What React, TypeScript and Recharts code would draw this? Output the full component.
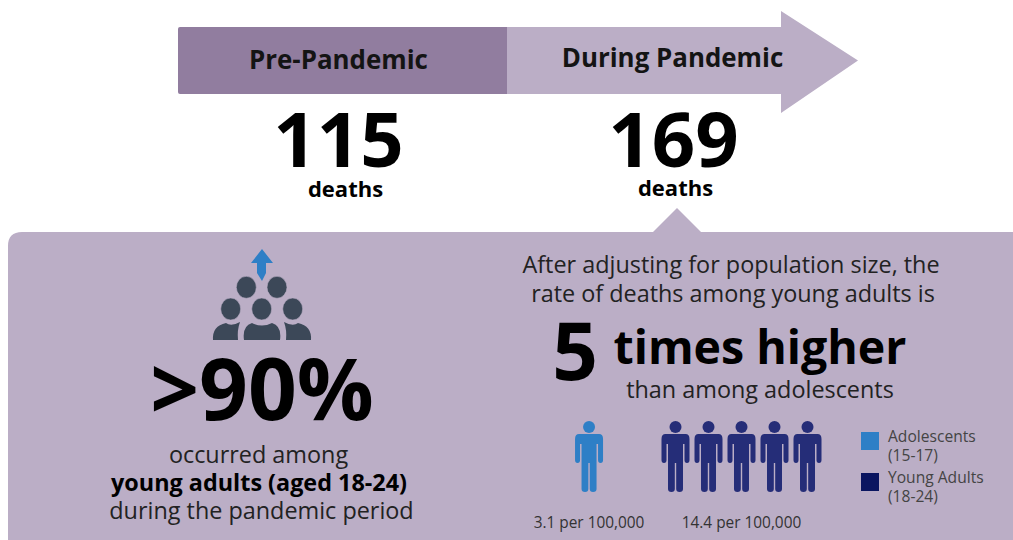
import { BarChart, Bar, Cell, LabelList, XAxis, YAxis, ScatterChart, Scatter, Legend } from 'recharts'

const periods = ['Pre-Pandemic', 'During Pandemic']
const deaths = [115, 169]
const youngAdultShare = 90
const rateMultiple = 5
const groups = ['Adolescents (15-17)', 'Young Adults (18-24)']
const rates = [3.1, 14.4]
const peopleCounts = [1, 5]

const FONT = '"Open Sans", sans-serif'
const PANEL = '#bbaec6'
const PRE = '#917d9f'
const BLUE = '#2e7fc6'
const NAVY = '#252d78'
const LEGEND_COLORS = [BLUE, '#0a1560']
const ICON = '#3c4858'

const periodRows = periods.map((name, i) => ({ name, span: 1, deaths: deaths[i] }))

// pictogram slots, one person per slot
const groupStart = [0.88, 3.5]
const personRows = peopleCounts.map((count, g) =>
  Array.from({ length: count }, (_, i) => ({ slot: groupStart[g] + i, row: 0.5 }))
)
const groupCenters = peopleCounts.map((count, g) => groupStart[g] + (count - 1) / 2)

function PeriodShape(props: any) {
  const { x, y, width, height, index, fill } = props
  if (index === 0) {
    const r = 2
    return (
      <path
        d={`M${x + r},${y} H${x + width} V${y + height} H${x + r} Q${x},${y + height} ${x},${y + height - r} V${y + r} Q${x},${y} ${x + r},${y} Z`}
        fill={fill}
      />
    )
  }
  const headBase = x + width - 55
  const tip = x + width + 22
  const mid = y + height / 2
  return (
    <path
      d={`M${x},${y} H${headBase} V${y - 16} L${tip},${mid} L${headBase},${y + height + 19} V${y + height} H${x} Z`}
      fill={fill}
    />
  )
}

function PeriodName(props: any) {
  const { x, y, width, height, value } = props
  const first = value === periods[0]
  return (
    <text x={x + width / 2 + (first ? -4 : 1)} y={y + height / 2 + (first ? 8 : 6)} textAnchor="middle" fontFamily={FONT} fontWeight={700} fontSize={25.9} fill="#141414">
      {value}
    </text>
  )
}

function DeathCount(props: any) {
  const { x, y, width, height, value } = props
  const first = value === deaths[0]
  const cx = x + width / 2 + (first ? -4 : 2)
  return (
    <g fontFamily={FONT} fontWeight={700} fill="#000" textAnchor="middle">
      <text x={cx} y={y + height + 73} fontSize={76}>{value}</text>
      <text x={cx + (first ? 7 : 2)} y={y + height + (first ? 103 : 102)} fontSize={22}>deaths</text>
    </g>
  )
}

function Person(props: any) {
  const { cx, cy, fill } = props
  const top = cy - 35.5
  return (
    <g fill={fill}>
      <circle cx={cx} cy={top + 6} r={6} />
      <path
        d={`M${cx - 10},${top + 13} H${cx + 10} Q${cx + 14},${top + 13} ${cx + 14},${top + 18}
        V${top + 39} Q${cx + 14},${top + 42} ${cx + 11.5},${top + 42} Q${cx + 9},${top + 42} ${cx + 9},${top + 39}
        V${top + 23} H${cx + 7.5} V${top + 68} Q${cx + 7.5},${top + 71} ${cx + 4},${top + 71} Q${cx + 0.7},${top + 71} ${cx + 0.7},${top + 68}
        V${top + 42} H${cx - 0.7} V${top + 68} Q${cx - 0.7},${top + 71} ${cx - 4},${top + 71} Q${cx - 7.5},${top + 71} ${cx - 7.5},${top + 68}
        V${top + 23} H${cx - 9} V${top + 39} Q${cx - 9},${top + 42} ${cx - 11.5},${top + 42} Q${cx - 14},${top + 42} ${cx - 14},${top + 39}
        V${top + 18} Q${cx - 14},${top + 13} ${cx - 10},${top + 13} Z`}
      />
    </g>
  )
}

function GroupLegend() {
  return (
    <div style={{ fontFamily: FONT, fontSize: 15.6, lineHeight: '19px', color: '#444' }}>
      {groups.map((g, i) => {
        const cut = g.indexOf('(')
        return (
          <div key={g} style={{ display: 'flex', alignItems: 'flex-start', marginBottom: 3 }}>
            <div style={{ width: 18, height: 18, marginTop: 5, marginRight: 9, background: LEGEND_COLORS[i] }} />
            <div>
              {g.slice(0, cut)}
              <br />
              {g.slice(cut)}
            </div>
          </div>
        )
      })}
    </div>
  )
}

function CrowdIcon() {
  const heads = [[246.3, 287.3], [277, 287.3], [230.7, 309], [261.7, 309], [292.7, 309]]
  return (
    <g fill={ICON}>
      {heads.map(([x, y]) => (
        <ellipse key={`${x}-${y}`} cx={x} cy={y} rx={10} ry={11} stroke={PANEL} strokeWidth={0.6} />
      ))}
      <path d="M213,340 Q212,326 226,323 Q231,327 240,322 Q237,330 238,340 Z" />
      <path d="M244,340 Q242,326 252,323 Q262,328 272,323 Q282,326 280,340 Z" />
      <path d="M311,340 Q312,326 298,323 Q293,327 284,322 Q287,330 286,340 Z" />
      <path d="M262,249 L273,263 H266 V273 L262,281 L257,273 V263 H251 Z" fill={BLUE} />
    </g>
  )
}

const textProps = { fontFamily: FONT, textAnchor: 'middle' as const, fill: '#000' }

export default function App() {
  return (
    <div style={{ position: 'absolute', left: 0, top: 0, width: 1013, height: 540, overflow: 'hidden', background: '#fff' }}>
      <svg width={1013} height={540} style={{ position: 'absolute', left: 0, top: 0 }}>
        <path d="M22,232 H653 L677,208 L701,232 H1013 V540 H8 V246 Q8,232 22,232 Z" fill={PANEL} />
        <CrowdIcon />
        <text {...textProps} x={262} y={420} fontSize={85.5} fontWeight={700}>{`>${youngAdultShare}%`}</text>
        <text {...textProps} x={258.5} y={463} fontSize={23.4} fill="#222">occurred among</text>
        <text {...textProps} x={259} y={491} fontSize={23.4} fontWeight={700}>young adults (aged 18-24)</text>
        <text {...textProps} x={261.5} y={519} fontSize={23.4} fill="#222">during the pandemic period</text>

        <text {...textProps} x={731} y={273} fontSize={23.4} fill="#222">After adjusting for population size, the</text>
        <text {...textProps} x={733} y={302} fontSize={23.4} fill="#222">rate of deaths among young adults is</text>
        <text {...textProps} x={575} y={380} fontSize={80} fontWeight={700}>{rateMultiple}</text>
        <text {...textProps} x={760} y={364} fontSize={46.5} fontWeight={700}>times higher</text>
        <text {...textProps} x={760} y={398} fontSize={23.4} fill="#222">than among adolescents</text>
      </svg>

      <div style={{ position: 'absolute', left: 178, top: 0 }}>
        <BarChart width={700} height={210} data={periodRows} barCategoryGap={0} margin={{ top: 27, right: 42, bottom: 116, left: 0 }}>
          <XAxis dataKey="name" hide />
          <YAxis domain={[0, 1]} hide />
          <Bar dataKey="span" isAnimationActive={false} shape={<PeriodShape />}>
            {periodRows.map((row, i) => (
              <Cell key={row.name} fill={i === 0 ? PRE : PANEL} />
            ))}
            <LabelList dataKey="name" content={<PeriodName />} />
            <LabelList dataKey="deaths" content={<DeathCount />} />
          </Bar>
        </BarChart>
      </div>

      <div style={{ position: 'absolute', left: 500, top: 421 }}>
        <ScatterChart width={513} height={115} margin={{ top: 0, right: 189, bottom: 0, left: 60 }}>
          <XAxis
            type="number"
            dataKey="slot"
            domain={[0, 8]}
            ticks={groupCenters}
            tickFormatter={(v: number) => `${rates[groupCenters.indexOf(v)]} per 100,000`}
            axisLine={false}
            tickLine={false}
            interval={0}
            height={44}
            tickMargin={19}
            tick={{ fontFamily: FONT, fontSize: 15.4, fill: '#333', width: 160 }}
          />
          <YAxis type="number" dataKey="row" domain={[0, 1]} hide />
          <Scatter data={personRows[0]} fill={BLUE} isAnimationActive={false} shape={<Person />} />
          <Scatter data={personRows[1]} fill={NAVY} isAnimationActive={false} shape={<Person />} />
          <Legend
            layout="vertical"
            align="center"
            verticalAlign="middle"
            content={<GroupLegend />}
            wrapperStyle={{ position: 'absolute', left: 361, top: 6, width: 150, bottom: 'auto' }}
          />
        </ScatterChart>
      </div>
    </div>
  )
}
